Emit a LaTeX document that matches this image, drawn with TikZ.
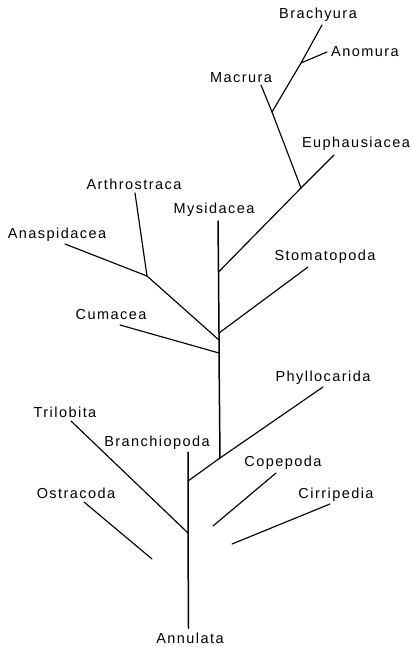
\documentclass[tikz,border=0pt]{standalone}
\usepackage{fontspec}
\setmainfont{Liberation Sans}[LetterSpace=10]
\begin{document}
\begin{tikzpicture}[x=1pt,y=-1pt,
  lbl/.style={inner sep=0pt,font=\fontsize{14.5}{17}\selectfont},
  br/.style={line width=1.15pt,line cap=round},
  trunk/.style={line width=1.5pt,line cap=round}]
\useasboundingbox (0,0) rectangle (412,647);
% labels
\node[lbl] (brachyura) at (318,15) {Brachyura};
\node[lbl] (anomura) at (365,52) {Anomura};
\node[lbl] (macrura) at (241,78) {Macrura};
\node[lbl] (euph) at (356,144) {Euphausiacea};
\node[lbl] (arthro) at (134,184) {Arthrostraca};
\node[lbl] (mysid) at (214,210) {Mysidacea};
\node[lbl] (anasp) at (57,235) {Anaspidacea};
\node[lbl] (stomato) at (325,257) {Stomatopoda};
\node[lbl] (cumacea) at (111,315) {Cumacea};
\node[lbl] (phyllo) at (323,378) {Phyllocarida};
\node[lbl] (trilo) at (65,412) {Trilobita};
\node[lbl] (branchio) at (157,443) {Branchiopoda};
\node[lbl] (copepoda) at (283,463) {Copepoda};
\node[lbl] (ostra) at (76,493) {Ostracoda};
\node[lbl] (cirri) at (336,495) {Cirripedia};
\node[lbl] (annulata) at (190,638) {Annulata};
% line ends and junctions
\coordinate (b1) at (322,25);
\coordinate (jA) at (301,63);
\coordinate (a1) at (327,52);
\coordinate (m1) at (261,85);
\coordinate (jM) at (272,112);
\coordinate (jE) at (301,188);
\coordinate (e1) at (334,155);
\coordinate (my1) at (218,221);
\coordinate (jU) at (218.5,272);
\coordinate (jS) at (219,333);
\coordinate (jK) at (219,340);
\coordinate (jC) at (219,353);
\coordinate (jP) at (220,458);
\coordinate (ar1) at (135,193);
\coordinate (jAr) at (147,276);
\coordinate (an1) at (65,244);
\coordinate (s1) at (308,267);
\coordinate (c1) at (120,325);
\coordinate (p1) at (323,387);
\coordinate (jB) at (188,481);
\coordinate (br1) at (188,452);
\coordinate (jT) at (188,533);
\coordinate (root) at (188.5,628);
\coordinate (t1) at (71,421);
\coordinate (o1) at (84,502);
\coordinate (o2) at (152,559);
\coordinate (cp1) at (276,473);
\coordinate (cp2) at (213,526);
\coordinate (ci1) at (330,504);
\coordinate (ci2) at (232,544);
% branches
\draw[br] (b1) -- (jA) -- (jM);
\draw[br] (a1) -- (jA);
\draw[br] (m1) -- (jM) -- (jE);
\draw[br] (e1) -- (jE) -- (jU);
\draw[trunk] (my1) -- (jU) -- (jS) -- (jK) -- (jC) -- (jP);
\draw[br] (ar1) -- (jAr) -- (jK);
\draw[br] (an1) -- (jAr);
\draw[br] (s1) -- (jS);
\draw[br] (c1) -- (jC);
\draw[br] (p1) -- (jP) -- (jB);
\draw[trunk] (br1) -- (jB) -- (jT) -- (root);
\draw[br] (t1) -- (jT);
\draw[br] (o1) -- (o2);
\draw[br] (cp1) -- (cp2);
\draw[br] (ci1) -- (ci2);
\end{tikzpicture}
\end{document}
